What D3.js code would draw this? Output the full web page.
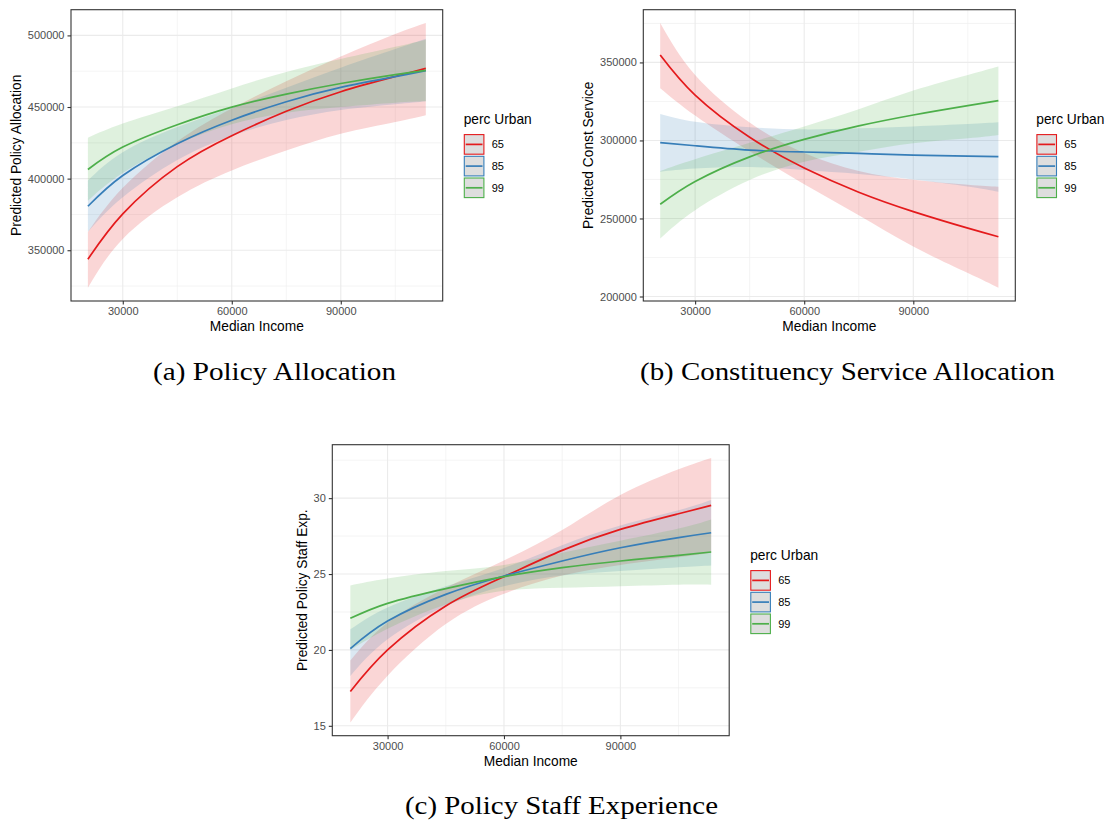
<!DOCTYPE html>
<html>
<head>
<meta charset="utf-8">
<script src="https://cdn.jsdelivr.net/npm/d3@7"></script>
<style>
  body { margin: 0; background: #fff; }
  svg { display: block; }
</style>
</head>
<body>
<svg id="chart" width="1110" height="824"></svg>
<script>
// shared x values (median income) and groups
const income = [20400, 30000, 45000, 60000, 75000, 90000, 105000, 113400];
const urbanLevels = ["65", "85", "99"];
const urbanColors = ["#E41A1C", "#377EB8", "#4DAF4A"];

// (a) predicted policy allocation
const policyFit65 = [343700, 375400, 408400, 430000, 447000, 460700, 471300, 477000];
const policyLow65 = [323800, 357900, 387000, 405700, 419700, 431400, 439600, 444300];
const policyHigh65 = [362700, 393600, 426000, 449000, 468000, 485300, 501000, 508700];
const policyFit85 = [380700, 402200, 424400, 440800, 453700, 463700, 471200, 475400];
const policyLow85 = [362900, 387000, 413000, 430000, 441000, 448000, 452000, 454100];
const policyHigh85 = [398700, 418500, 436000, 449500, 463500, 477500, 490500, 497700];
const policyFit99 = [406400, 422000, 437600, 449900, 459000, 466400, 472600, 475600];
const policyLow99 = [384600, 404000, 424000, 438000, 446000, 450000, 453000, 454000];
const policyHigh99 = [428600, 438500, 450600, 463000, 474500, 483500, 492000, 497000];
const policyTicks = [350000, 400000, 450000, 500000];

// (b) predicted constituency service
const constFit65 = [354700, 329000, 302000, 282300, 266800, 254400, 243800, 238300];
const constLow65 = [333500, 316000, 293000, 272000, 252000, 232000, 215000, 205600];
const constHigh65 = [375300, 342000, 311500, 292000, 280500, 274800, 271600, 270300];
const constFit85 = [298600, 296600, 293800, 292600, 291700, 290600, 290000, 289600];
const constLow85 = [280000, 282000, 283000, 281000, 278500, 275000, 270500, 267100];
const constHigh85 = [317000, 312000, 308500, 307100, 307800, 309000, 310500, 311600];
const constFit99 = [259100, 273700, 289500, 300700, 309300, 316300, 322300, 325500];
const constLow99 = [237100, 255300, 274600, 286400, 292800, 298200, 301400, 303500];
const constHigh99 = [280500, 288000, 298500, 309000, 320000, 332000, 342000, 347400];
const constTicks = [200000, 250000, 300000, 350000];

// (c) predicted policy staff experience
const staffFit65 = [17.26, 20.0, 22.9, 24.83, 26.56, 27.94, 28.97, 29.52];
const staffLow65 = [15.22, 18.3, 21.7, 23.7, 24.9, 25.6, 26.1, 26.4];
const staffHigh65 = [19.3, 21.8, 24.1, 25.9, 27.9, 30.2, 31.9, 32.65];
const staffFit85 = [20.09, 21.9, 23.66, 24.87, 25.86, 26.73, 27.4, 27.72];
const staffLow85 = [18.29, 20.7, 22.9, 24.2, 24.9, 25.2, 25.45, 25.57];
const staffHigh85 = [21.36, 22.8, 24.2, 25.4, 26.9, 28.2, 29.2, 29.87];
const staffFit99 = [22.08, 23.07, 24.04, 24.83, 25.42, 25.86, 26.23, 26.45];
const staffLow99 = [20.0, 21.4, 23.0, 23.9, 24.1, 24.2, 24.3, 24.3];
const staffHigh99 = [24.25, 24.7, 25.2, 25.6, 26.4, 27.2, 28.0, 28.6];
const staffTicks = [15, 20, 25, 30];

const incomeTicks = [30000, 60000, 90000];

const svg = d3.select("#chart");

function makeSeries(fits, lows, highs) {
    return urbanLevels.map((lvl, i) => ({
        key: lvl,
        color: urbanColors[i],
        values: income.map((x, j) => ({ x: x, fit: fits[i][j], lo: lows[i][j], hi: highs[i][j] }))
    }));
}

// ggplot style 5% expansion
function expand(lo, hi) {
    const pad = (hi - lo) * 0.05;
    return [lo - pad, hi + pad];
}

function drawPanel(p) {
    const g = svg.append("g");
    const series = p.series;

    const xDom = expand(d3.min(income), d3.max(income));
    const yDom = expand(
        d3.min(series, s => d3.min(s.values, d => d.lo)),
        d3.max(series, s => d3.max(s.values, d => d.hi))
    );

    const x = d3.scaleLinear().domain(xDom).range([p.left, p.right]);
    const y = d3.scaleLinear().domain(yDom).range([p.bottom, p.top]);

    // minor gridlines halfway between major ticks
    const xStep = incomeTicks[1] - incomeTicks[0];
    const xMinor = d3.range(incomeTicks[0] - xStep / 2, xDom[1], xStep).filter(v => v > xDom[0]);
    const yStep = p.yTicks[1] - p.yTicks[0];
    const yMinor = d3.range(p.yTicks[0] - yStep / 2, yDom[1], yStep).filter(v => v > yDom[0]);

    g.append("g").selectAll("line")
        .data(xMinor).join("line")
        .attr("x1", d => x(d)).attr("x2", d => x(d))
        .attr("y1", p.top).attr("y2", p.bottom)
        .attr("stroke", "#EFEFEF").attr("stroke-width", 0.7);
    g.append("g").selectAll("line")
        .data(yMinor).join("line")
        .attr("y1", d => y(d)).attr("y2", d => y(d))
        .attr("x1", p.left).attr("x2", p.right)
        .attr("stroke", "#EFEFEF").attr("stroke-width", 0.7);
    g.append("g").selectAll("line")
        .data(incomeTicks).join("line")
        .attr("x1", d => x(d)).attr("x2", d => x(d))
        .attr("y1", p.top).attr("y2", p.bottom)
        .attr("stroke", "#EBEBEB").attr("stroke-width", 1.1);
    g.append("g").selectAll("line")
        .data(p.yTicks).join("line")
        .attr("y1", d => y(d)).attr("y2", d => y(d))
        .attr("x1", p.left).attr("x2", p.right)
        .attr("stroke", "#EBEBEB").attr("stroke-width", 1.1);

    const area = d3.area()
        .x(d => x(d.x)).y0(d => y(d.lo)).y1(d => y(d.hi))
        .curve(d3.curveNatural);
    const line = d3.line()
        .x(d => x(d.x)).y(d => y(d.fit))
        .curve(d3.curveNatural);

    g.append("g").selectAll("path")
        .data(series).join("path")
        .attr("d", d => area(d.values))
        .attr("fill", d => d.color)
        .attr("fill-opacity", 0.18);

    g.append("g").selectAll("path")
        .data(series).join("path")
        .attr("d", d => line(d.values))
        .attr("fill", "none")
        .attr("stroke", d => d.color)
        .attr("stroke-width", 1.7);

    // panel border
    g.append("rect")
        .attr("x", p.left).attr("y", p.top)
        .attr("width", p.right - p.left).attr("height", p.bottom - p.top)
        .attr("fill", "none").attr("stroke", "#333333").attr("stroke-width", 1.1);

    // axes
    const xAxis = g.append("g")
        .attr("transform", `translate(0,${p.bottom})`)
        .call(d3.axisBottom(x).tickValues(incomeTicks).tickFormat(d3.format("d")).tickSize(3.5).tickPadding(3));
    const yAxis = g.append("g")
        .attr("transform", `translate(${p.left},0)`)
        .call(d3.axisLeft(y).tickValues(p.yTicks).tickFormat(d3.format("d")).tickSize(3.5).tickPadding(3));
    [xAxis, yAxis].forEach(a => {
        a.select(".domain").remove();
        a.selectAll(".tick line").attr("stroke", "#333333").attr("stroke-width", 1.1);
        a.selectAll(".tick text")
            .attr("fill", "#4D4D4D")
            .style("font-family", "'Liberation Sans', Arial, sans-serif")
            .style("font-size", "11px");
    });

    g.append("text")
        .attr("x", (p.left + p.right) / 2)
        .attr("y", p.bottom + 30)
        .attr("text-anchor", "middle")
        .style("font-family", "'Liberation Sans', Arial, sans-serif")
        .style("font-size", "13.75px")
        .text("Median Income");

    g.append("text")
        .attr("transform", `translate(${p.yTitleX},${(p.top + p.bottom) / 2}) rotate(-90)`)
        .attr("text-anchor", "middle")
        .attr("dy", "0.35em")
        .style("font-family", "'Liberation Sans', Arial, sans-serif")
        .style("font-size", "13.75px")
        .text(p.yTitle);

    // legend
    const lg = g.append("g").attr("transform", `translate(${p.right + 21},${p.legendTop})`);
    lg.append("text")
        .attr("x", 0).attr("y", 0)
        .style("font-family", "'Liberation Sans', Arial, sans-serif")
        .style("font-size", "13.75px")
        .text("perc Urban");
    const keys = lg.selectAll("g.key")
        .data(series).join("g")
        .attr("transform", (d, i) => `translate(0,${10 + i * 21.7})`);
    keys.append("rect")
        .attr("x", 0.6).attr("y", 0.6)
        .attr("width", 19.6).attr("height", 19.6)
        .attr("fill", "#DEDEDE")
        .attr("stroke", d => d.color)
        .attr("stroke-width", 1.1);
    keys.append("line")
        .attr("x1", 2).attr("x2", 18.8)
        .attr("y1", 10.4).attr("y2", 10.4)
        .attr("stroke", d => d.color)
        .attr("stroke-width", 1.7);
    keys.append("text")
        .attr("x", 28).attr("y", 10.4)
        .attr("dy", "0.35em")
        .style("font-family", "'Liberation Sans', Arial, sans-serif")
        .style("font-size", "11px")
        .text(d => d.key);

    // caption
    svg.append("text")
        .attr("x", p.capLeft).attr("y", p.capY)
        .attr("textLength", p.capWidth)
        .attr("lengthAdjust", "spacingAndGlyphs")
        .style("font-family", "'Liberation Serif', 'Times New Roman', serif")
        .style("font-size", "26px")
        .text(p.caption);
}

drawPanel({
    series: makeSeries([policyFit65, policyFit85, policyFit99], [policyLow65, policyLow85, policyLow99], [policyHigh65, policyHigh85, policyHigh99]),
    yTicks: policyTicks,
    left: 71, right: 442.7, top: 9.7, bottom: 301,
    yTitle: "Predicted Policy Allocation", yTitleX: 16,
    legendTop: 124,
    caption: "(a) Policy Allocation", capLeft: 153, capY: 380, capWidth: 243
});

drawPanel({
    series: makeSeries([constFit65, constFit85, constFit99], [constLow65, constLow85, constLow99], [constHigh65, constHigh85, constHigh99]),
    yTicks: constTicks,
    left: 643.3, right: 1015.3, top: 9.7, bottom: 301,
    yTitle: "Predicted Const Service", yTitleX: 588.5,
    legendTop: 124,
    caption: "(b) Constituency Service Allocation", capLeft: 640, capY: 380, capWidth: 415
});

drawPanel({
    series: makeSeries([staffFit65, staffFit85, staffFit99], [staffLow65, staffLow85, staffLow99], [staffHigh65, staffHigh85, staffHigh99]),
    yTicks: staffTicks,
    left: 332.3, right: 729.2, top: 444.7, bottom: 735.7,
    yTitle: "Predicted Policy Staff Exp.", yTitleX: 302,
    legendTop: 560,
    caption: "(c) Policy Staff Experience", capLeft: 405, capY: 814, capWidth: 313
});
</script>
</body>
</html>
